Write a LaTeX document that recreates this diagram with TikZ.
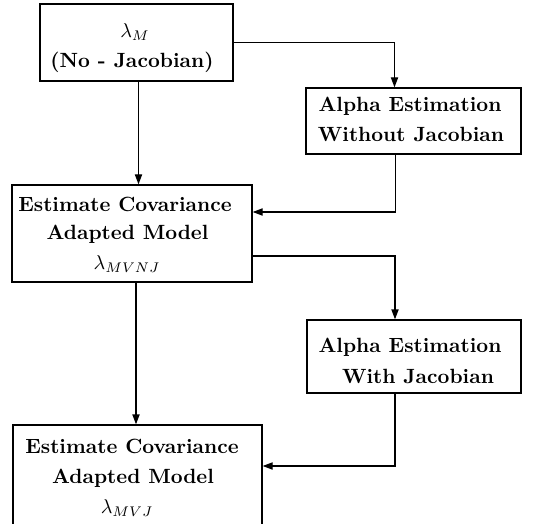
\documentclass[tikz,border=0pt]{standalone}
\usetikzlibrary{arrows.meta}
\begin{document}
\begin{tikzpicture}[x=0.5pt,y=-0.5pt,
  box/.style={draw, line width=0.65pt, rectangle, inner sep=0pt},
  lbl/.style={anchor=base, inner sep=0pt, font=\fontsize{10.3}{12}\selectfont\bfseries},
  arr/.style={line width=0.65pt, -{Triangle[length=5pt,width=3.6pt]}}]
\useasboundingbox (0,0) rectangle (536,524);
\node[box, minimum width=96.5pt, minimum height=38.5pt] (b1) at (136.5,42.5) {};
\node[box, minimum width=107.5pt, minimum height=33pt] (b2) at (413.5,121) {};
\node[box, minimum width=120pt, minimum height=48.5pt] (b3) at (132,233.5) {};
\node[box, minimum width=107pt, minimum height=36.5pt] (b4) at (414,356.5) {};
\node[box, minimum width=124.5pt, minimum height=55pt] (b5) at (137.5,480) {};
% texts
\node[lbl] (t1a) at (135,38) {$\lambda_M$};
\node[lbl] (t1b) at (132,68) {(No - Jacobian)};
\node[lbl] (t2a) at (410,112) {Alpha Estimation};
\node[lbl] (t2b) at (411,142) {Without Jacobian};
\node[lbl] (t3a) at (125,212) {Estimate Covariance};
\node[lbl] (t3b) at (127.5,240) {Adapted Model};
\node[lbl] (t3c) at (127,270) {$\lambda_{MVNJ}$};
\node[lbl] (t4a) at (410,352) {Alpha Estimation};
\node[lbl] (t4b) at (418,383) {With Jacobian};
\node[lbl] (t5a) at (132,453) {Estimate Covariance};
\node[lbl] (t5b) at (133,483) {Adapted Model};
\node[lbl] (t5c) at (127,513) {$\lambda_{MVJ}$};
% connectors
\draw[arr] ([xshift=1pt]b1.south) -- ([xshift=1pt]b1.south |- b3.north);
\draw[arr] (b1.east) -| ([xshift=-9.5pt]b2.north);
\draw[arr] ([xshift=-9pt]b2.south) |- ([yshift=10.75pt]b3.east);
\draw[arr] ([yshift=-11.25pt]b3.east) -| ([xshift=-9.5pt]b4.north);
\draw[arr] ([xshift=2pt]b3.south) -- ([xshift=2pt]b3.south |- b5.north);
\draw[arr] ([xshift=-9.5pt]b4.south) |- ([yshift=7pt]b5.east);
\end{tikzpicture}
\end{document}
